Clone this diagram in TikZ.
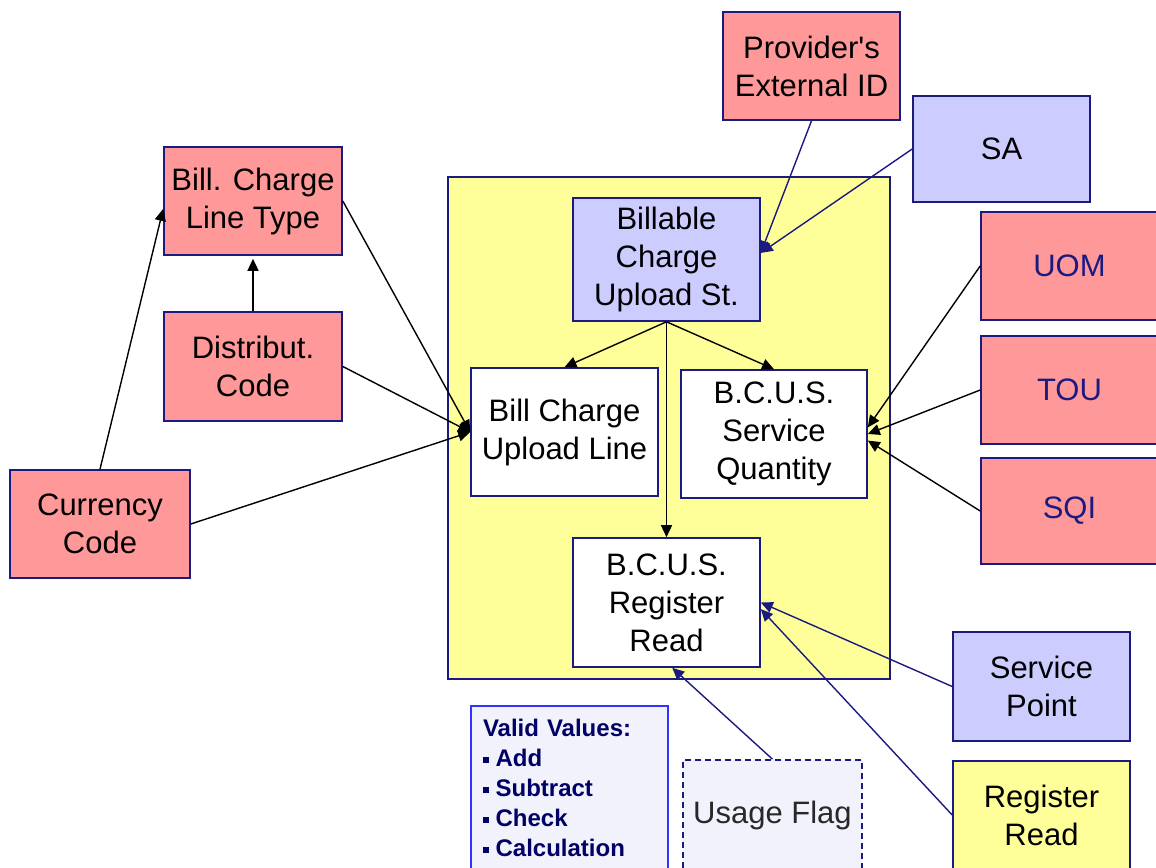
\documentclass[tikz,border=0pt]{standalone}
\usepackage{fontspec}
\setmainfont{Liberation Sans}
\newfontfamily\plainsans{Liberation Sans}
\usetikzlibrary{arrows.meta}
\definecolor{boxred}{RGB}{255,153,153}
\definecolor{boxblue}{RGB}{204,204,255}
\definecolor{boxyellow}{RGB}{255,255,153}
\definecolor{boxline}{RGB}{26,26,128}
\definecolor{valtext}{RGB}{0,0,102}
\definecolor{valline}{RGB}{51,51,255}
\definecolor{dotfill}{RGB}{242,242,252}
\newcommand\valitem{\rule[0.25ex]{2.8pt}{2.8pt}\hspace{3.5pt}}
\begin{document}
\begin{tikzpicture}[x=.5pt,y=-.5pt,
  ent/.style={draw=boxline,line width=0.8pt,inner sep=0pt,align=center,font=\fontsize{15.5}{19}\selectfont},
  redent/.style={ent,fill=boxred},
  blueent/.style={ent,fill=boxblue},
  whiteent/.style={ent,fill=white},
  link/.style={line width=0.7pt,-{Triangle[length=6pt,width=5.5pt]}},
  navylink/.style={link,draw=boxline}]
\path[use as bounding box] (0,0) rectangle (1156,867);
% upload area
\node[draw=boxline,line width=1pt,fill=boxyellow,minimum width=221pt,minimum height=251pt] (upload) at (669,428) {};
\node[blueent,minimum width=93.5pt,minimum height=61.5pt] (bcus) at (666.5,259.5) {Billable\\Charge\\Upload St.};
\node[whiteent,minimum width=93.5pt,minimum height=64pt] (bcul) at (564.5,432) {Bill Charge\\Upload Line};
\node[whiteent,minimum width=93pt,minimum height=64pt] (bcsq) at (774,434) {B.C.U.S.\\Service\\Quantity};
\node[whiteent,minimum width=93.5pt,minimum height=64.5pt] (bcrr) at (666.5,602.5) {B.C.U.S.\\Register\\Read};
% left side
\node[redent,minimum width=89pt,minimum height=54pt] (bclt) at (253,201) {Bill. Charge\\Line Type};
\node[redent,minimum width=89pt,minimum height=54.5pt] (dist) at (253,366.5) {Distribut.\\Code};
\node[redent,minimum width=90pt,minimum height=54pt] (curr) at (100,524) {Currency\\Code};
% top and right side
\node[redent,minimum width=88.5pt,minimum height=54pt] (prov) at (811.5,66) {{\plainsans Provider's}\\External ID};
\node[blueent,minimum width=88.5pt,minimum height=53pt] (sa) at (1001.5,149) {SA};
\node[redent,text=boxline,minimum width=88.5pt,minimum height=54pt] (uom) at (1069.5,266) {UOM};
\node[redent,text=boxline,minimum width=88.5pt,minimum height=54pt] (tou) at (1069.5,390) {TOU};
\node[redent,text=boxline,minimum width=88.5pt,minimum height=53pt] (sqi) at (1069.5,511) {SQI};
\node[blueent,minimum width=88.5pt,minimum height=54.5pt] (sp) at (1041.5,686.5) {Service\\Point};
\node[ent,fill=boxyellow,minimum width=88.5pt,minimum height=54pt] (rr) at (1041.5,815) {Register\\Read};
% bottom notes
\node[draw=valline,line width=0.8pt,fill=dotfill,inner xsep=6pt,inner ysep=0pt,text width=86.5pt,minimum height=81.5pt,align=left,text=valtext,font=\bfseries\fontsize{12}{15}\selectfont] (vals) at (569.5,787.5) {Valid Values:\\\valitem Add\\\valitem Subtract\\\valitem Check\\\valitem Calculation};
\node[ent,draw=boxline,dash pattern=on 3pt off 2pt,fill=dotfill,text={rgb,255:red,40;green,40;blue,40},minimum width=89.5pt,minimum height=55pt] (uf) at (772.5,815) {Usage Flag};
% connectors
\draw[link] (curr.north) -- (bclt.185);
\draw[link,shorten >=1.5pt] (dist.north) -- (bclt.south);
\draw[link] (bclt.east) -- (bcul.west);
\draw[link] (dist.east) -- (bcul.west);
\draw[link] (curr.east) -- (bcul.west);
\draw[link] (bcus.south) -- (bcul.north);
\draw[link] (bcus.south) -- (bcsq.north);
\draw[link] (bcus.south) -- (bcrr.north);
\draw[navylink] (prov.south) -- (bcus.4);
\draw[navylink] (sa.west) -- (bcus.4);
\draw[link] (uom.west) -- (bcsq.4);
\draw[link] (tou.west) -- (bcsq.east);
\draw[link] (sqi.west) -- (bcsq.-4);
\draw[navylink] (sp.west) -- (bcrr.east);
\draw[navylink] (rr.west) -- (bcrr.-4);
\draw[navylink] (uf.north) -- (bcrr.-85);
\end{tikzpicture}
\end{document}
